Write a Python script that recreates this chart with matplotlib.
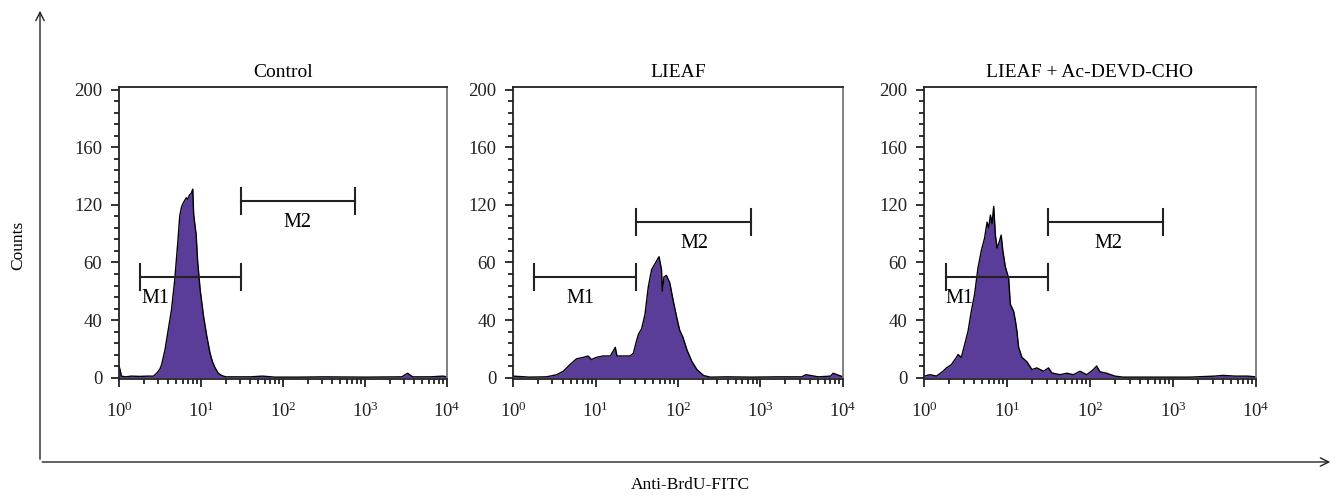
import numpy as np
import matplotlib.pyplot as plt
from matplotlib.patches import FancyArrowPatch
from matplotlib.ticker import LogLocator, FixedLocator, MultipleLocator

plt.rcParams['font.family'] = ['Liberation Serif', 'DejaVu Serif']
plt.rcParams['mathtext.fontset'] = 'stix'

# histogram data: log10(fluorescence channel), counts
control_log = [0.00, 0.01, 0.03, 0.08, 0.15, 0.25, 0.35, 0.42, 0.46, 0.50, 0.52, 0.56, 0.60,
               0.64, 0.68, 0.70, 0.72, 0.74, 0.76, 0.78, 0.80, 0.82, 0.84, 0.86, 0.88, 0.90,
               0.91, 0.93, 0.94, 0.96, 0.99, 1.03, 1.07, 1.11, 1.14, 1.17, 1.21, 1.25, 1.30,
               1.60, 1.75, 1.90, 2.20, 2.50, 3.00, 3.45, 3.52, 3.58, 3.80, 3.95, 4.00]
control_counts = [8, 6, 1, 0.5, 1, 0.8, 1, 1, 3, 6, 9, 19, 33,
                  47, 68, 82, 96, 112, 118, 121, 123, 125, 124, 127, 128, 131,
                  114, 104, 100, 80, 61, 43, 29, 17, 11, 7, 3, 1.5, 0.5,
                  0.5, 1, 0.3, 0.3, 0.5, 0.3, 0.5, 3, 0.5, 0.5, 1, 0.5]

lieaf_log = [0.00, 0.20, 0.40, 0.45, 0.53, 0.61, 0.69, 0.73, 0.77, 0.85, 0.91, 0.95, 1.01,
             1.09, 1.18, 1.24, 1.26, 1.34, 1.42, 1.46, 1.49, 1.52, 1.56, 1.60, 1.64, 1.68,
             1.74, 1.77, 1.80, 1.81, 1.83, 1.86, 1.90, 1.94, 1.98, 2.02, 2.06, 2.11, 2.17,
             2.23, 2.31, 2.39, 2.60, 2.90, 3.20, 3.50, 3.55, 3.70, 3.85, 3.88, 4.00]
lieaf_counts = [1, 0.3, 0.5, 1, 2, 4.4, 9, 11, 13, 14, 15, 12.5, 14,
                15, 15, 21, 15, 15, 15, 17, 24, 30, 34, 44, 63, 75,
                81, 84, 75, 60, 70, 71, 66, 54, 43, 33, 28, 19, 11,
                5.5, 1.4, 0.3, 0.5, 0.3, 0.5, 0.5, 2, 0.5, 1, 3, 0.5]

devd_log = [0.00, 0.01, 0.07, 0.15, 0.23, 0.27, 0.33, 0.39, 0.41, 0.45, 0.49, 0.53, 0.57,
            0.61, 0.65, 0.69, 0.73, 0.76, 0.78, 0.80, 0.82, 0.84, 0.86, 0.88, 0.91, 0.93,
            0.95, 0.98, 1.02, 1.04, 1.08, 1.10, 1.12, 1.14, 1.18, 1.24, 1.30, 1.36, 1.44,
            1.50, 1.54, 1.64, 1.72, 1.80, 1.88, 1.96, 2.03, 2.08, 2.12, 2.20, 2.30, 2.40,
            2.80, 3.20, 3.50, 3.60, 3.75, 3.90, 4.00]
devd_counts = [0.5, 1, 2, 1, 4.4, 6.7, 9, 14, 16, 14, 23, 32, 46,
               58, 76, 88, 97, 108, 104, 113, 107, 119, 99, 90, 95, 99,
               88, 77, 69, 51, 46, 40, 32, 21, 14, 11, 5.6, 6.7, 4.4,
               6.7, 3.2, 2, 3, 2, 4.4, 2, 5, 8, 4, 3, 1, 0.3,
               0.3, 0.3, 1, 1.5, 1, 1, 0.5]

titles = ['Control', 'LIEAF', 'LIEAF + Ac-DEVD-CHO']
panels = [(control_log, control_counts), (lieaf_log, lieaf_counts), (devd_log, devd_counts)]

# gates: (start, end, height) for M1 and M2
m1_gates = [(1.8, 31, 70), (1.8, 31, 70), (1.85, 31, 70)]
m2_gates = [(31, 760, 123), (31, 760, 108), (31, 760, 108)]
m1_label_x = [2.75, 6.5, 2.7]
m2_label_x = [152, 160, 165]

y_ticks = [0, 40, 80, 120, 160, 200]
y_ticklabels = ['0', '40', '60', '120', '160', '200']

fill_color = '#5a3d98'
ink = '#222222'
W, H = 1338, 500
fig = plt.figure(figsize=(W / 100, H / 100), dpi=100)

ax_boxes = [(119, 447), (513, 843), (924, 1256)]
top_px, bot_px = 87, 379

for i, ((l, r), (lg, cts)) in enumerate(zip(ax_boxes, panels)):
    ax = fig.add_axes([l / W, 1 - bot_px / H, (r - l) / W, (bot_px - top_px) / H])
    x = 10 ** np.array(lg)
    ax.fill_between(x, 0, cts, color=fill_color, lw=0)
    ax.plot(x, cts, color='black', lw=1.0)

    ax.set_xscale('log')
    ax.set_xlim(1, 1e4)
    ax.set_ylim(-1, 202)
    ax.yaxis.set_major_locator(FixedLocator(y_ticks))
    ax.set_yticklabels(y_ticklabels)
    ax.yaxis.set_minor_locator(MultipleLocator(8))
    ax.xaxis.set_major_locator(LogLocator(base=10, numticks=10))
    ax.xaxis.set_minor_locator(LogLocator(base=10, subs=np.arange(2, 10), numticks=10))
    ax.tick_params(which='major', direction='out', length=6, width=1.3, labelsize=13.5, colors=ink)
    ax.tick_params(which='minor', direction='out', length=3.5, width=1.3, colors=ink)
    ax.tick_params(axis='x', which='major', pad=10)
    ax.tick_params(axis='y', which='major', pad=6)
    for side in ['left', 'bottom', 'top']:
        ax.spines[side].set_linewidth(1.3)
        ax.spines[side].set_color(ink)
    ax.spines['right'].set_linewidth(1.3)
    ax.spines['right'].set_color('#777777')

    ax.set_title(titles[i], fontsize=14, pad=7)

    # gate bars
    for (a, b, h) in [m1_gates[i], m2_gates[i]]:
        ax.plot([a, b], [h, h], color=ink, lw=1.5)
        ax.plot([a, a], [h - 9, h + 9], color=ink, lw=1.5)
        ax.plot([b, b], [h - 9, h + 9], color=ink, lw=1.5)
    ax.text(m1_label_x[i], m1_gates[i][2] - 15, 'M1', ha='center', va='center', fontsize=14.5)
    ax.text(m2_label_x[i], m2_gates[i][2] - 15, 'M2', ha='center', va='center', fontsize=14.5)

# outer arrowed axes
fig.patches.append(FancyArrowPatch(
    (40 / W, 1 - 462 / H), (40 / W, 1 - 8 / H), transform=fig.transFigure,
    arrowstyle='->,head_length=6,head_width=3', color=ink, lw=1.0, mutation_scale=1))
fig.patches.append(FancyArrowPatch(
    (39.5 / W, 1 - 462 / H), (1333 / W, 1 - 462 / H), transform=fig.transFigure,
    arrowstyle='->,head_length=6,head_width=3', color=ink, lw=1.0, mutation_scale=1))

fig.text(18 / W, 1 - 245 / H, 'Counts', rotation=90, ha='center', va='center', fontsize=12.5)
fig.text(690 / W, 1 - 485 / H, 'Anti-BrdU-FITC', ha='center', va='center', fontsize=12.5)

fig.savefig('out.png', dpi=100)
